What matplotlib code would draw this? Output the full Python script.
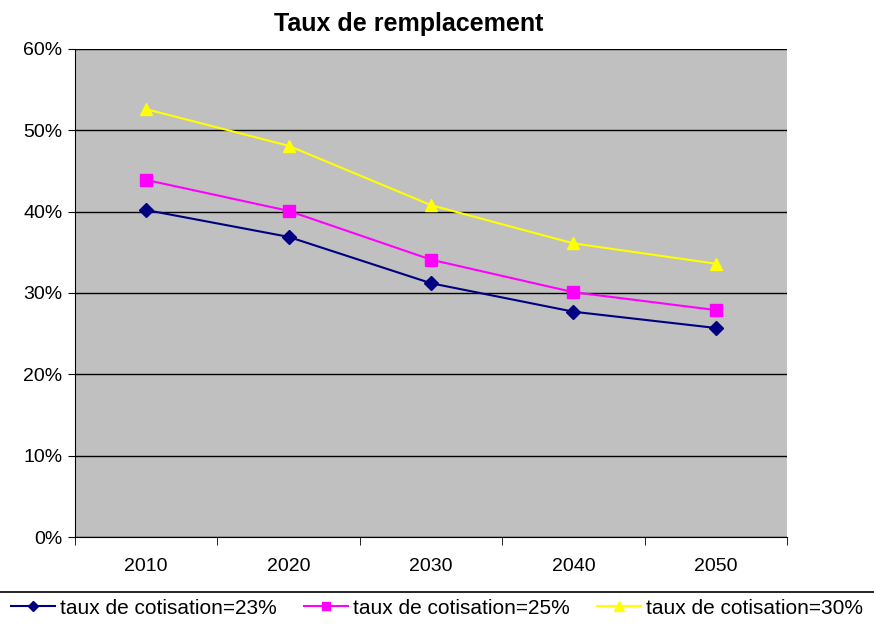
import matplotlib.pyplot as plt
import matplotlib
from matplotlib.lines import Line2D
matplotlib.rcParams['font.family'] = ['Liberation Sans', 'DejaVu Sans']

years = ["2010", "2020", "2030", "2040", "2050"]
taux_23 = [0.402, 0.369, 0.312, 0.277, 0.257]
taux_25 = [0.439, 0.401, 0.341, 0.301, 0.279]
taux_30 = [0.526, 0.481, 0.408, 0.361, 0.336]

series = [
    ("taux de cotisation=23%", taux_23, "#000080", "D", 7),
    ("taux de cotisation=25%", taux_25, "#FF00FF", "s", 8),
    ("taux de cotisation=30%", taux_30, "#FFFF00", "^", 9),
]

fig = plt.figure(figsize=(8.74, 6.24), dpi=100)
ax = fig.add_axes([0.0858, 0.1394, 0.8147, 0.7821])
ax.set_facecolor("#C0C0C0")

x = list(range(len(years)))
for label, vals, col, mk, ms in series:
    ax.plot(x, vals, color=col, marker=mk, markersize=ms, linewidth=1.5,
            label=label, zorder=3)

ax.set_ylim(0, 0.6)
ax.set_yticks([i / 10 for i in range(7)])
ax.set_yticklabels([f"{i * 10}%" for i in range(7)], fontsize=14)
ax.yaxis.grid(True, color="black", linewidth=1)
ax.set_axisbelow(True)

ax.set_xlim(-0.5, len(years) - 0.5)
ax.set_xticks(x)
ax.set_xticklabels(years, fontsize=14)
ax.set_xticks([i - 0.5 for i in range(len(years) + 1)], minor=True)
ax.tick_params(axis="x", which="major", length=0, pad=15)
ax.tick_params(axis="x", which="minor", length=6, direction="out")
ax.tick_params(axis="y", length=5, direction="out", pad=4)

for s in ["top", "right"]:
    ax.spines[s].set_visible(False)
ax.spines["left"].set_color("black")
ax.spines["bottom"].set_color("black")

ax.set_title("Taux de remplacement", fontsize=18, fontweight="bold",
             x=0.468, pad=13)

# ligne au-dessus de la légende
fig.add_artist(Line2D([0.0, 1.0], [1 - 592 / 624, 1 - 592 / 624],
                      color="black", linewidth=1.2, transform=fig.transFigure))

leg_handles = [Line2D([], [], color=col, marker=mk, markersize=ms * 0.8,
                      linewidth=1.5) for _, _, col, mk, ms in series]
fig.legend(leg_handles, [s[0] for s in series], loc="center",
           bbox_to_anchor=(0.5, 1 - 608 / 624), ncol=3,
           frameon=False, fontsize=15, handlelength=2.1, columnspacing=1.3,
           handletextpad=0.25)

plt.savefig("out.png", dpi=100)
